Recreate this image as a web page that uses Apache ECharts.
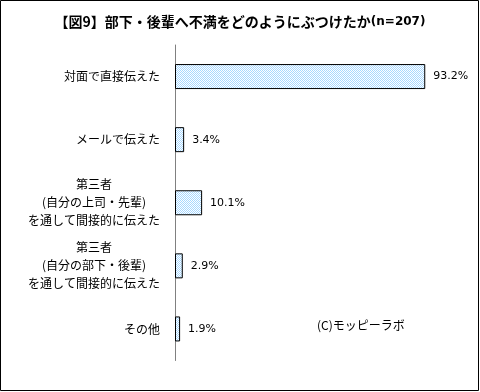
<!DOCTYPE html>
<html>
<head>
<meta charset="utf-8">
<script src="https://cdn.jsdelivr.net/npm/echarts@6/dist/echarts.min.js"></script>
<style>
html,body{margin:0;padding:0;background:#fff;}
#c{width:480px;height:392px;}
</style>
</head>
<body>
<div id="c"></div>
<script>
const categories = [
  '対面で直接伝えた',
  'メールで伝えた',
  '第三者\n(自分の上司・先輩)\nを通して間接的に伝えた',
  '第三者\n(自分の部下・後輩)\nを通して間接的に伝えた',
  'その他'
];
const values = [93.2, 3.4, 10.1, 2.9, 1.9];
const titleMain = '【図9】部下・後輩へ不満をどのようにぶつけたか';
const titleSub = '(n=207)';
const credit = '(C)モッピーラボ';

const pat = document.createElement('canvas');
pat.width = 2; pat.height = 2;
const pc = pat.getContext('2d');
pc.fillStyle = '#ffffff'; pc.fillRect(0,0,2,2);
pc.fillStyle = '#a8d8ff'; pc.fillRect(0,0,1,1); pc.fillRect(1,1,1,1);

const chart = echarts.init(document.getElementById('c'), null, {renderer:'canvas'});
const jp = '"Noto Sans CJK JP", sans-serif';
chart.setOption({
  animation: false,
  title: {
    text: '{a|' + titleMain + '}{b|' + titleSub + '}',
    left: 'center',
    top: 10,
    textStyle: {
      rich: {
        a: {fontFamily: jp, fontSize: 14, fontWeight: 'bold', color: '#000'},
        b: {fontFamily: '"DejaVu Sans", sans-serif', fontSize: 12, fontWeight: 'bold', color: '#000'}
      }
    }
  },
  grid: {left: 175, right: 36.5, top: 45, bottom: 31.5, containLabel: false},
  xAxis: {
    type: 'value', min: 0, max: 100,
    axisLine: {show: false}, axisTick: {show: false},
    axisLabel: {show: false}, splitLine: {show: false}
  },
  yAxis: {
    type: 'category', inverse: true, data: categories,
    axisLine: {show: true, lineStyle: {color: '#808080', width: 1}},
    axisTick: {show: false},
    axisLabel: {
      margin: 15,
      align: 'right',
      formatter: v => v.split('\n').map(l => '{c|' + l + '}').join('\n'),
      rich: {c: {align: 'center', fontFamily: jp, fontSize: 12, color: '#000', lineHeight: 18}}
    }
  },
  series: [{
    type: 'bar',
    data: values,
    barWidth: 25,
    itemStyle: {color: {image: pat, repeat: 'repeat'}, borderColor: '#000', borderWidth: 1},
    label: {
      show: true, position: 'right', distance: 8,
      formatter: p => p.value.toFixed(1) + '%',
      fontFamily: '"DejaVu Sans", sans-serif', fontSize: 11, color: '#000'
    }
  }],
  graphic: [
    {type: 'text', left: 317, top: 319, style: {text: credit, font: '12px "Noto Sans CJK JP"', fill: '#000'}},
    {type: 'rect', shape: {x: 0.5, y: 0.5, width: 478, height: 390}, style: {fill: 'none', stroke: '#000', lineWidth: 1}, silent: true}
  ]
});
</script>
</body>
</html>
